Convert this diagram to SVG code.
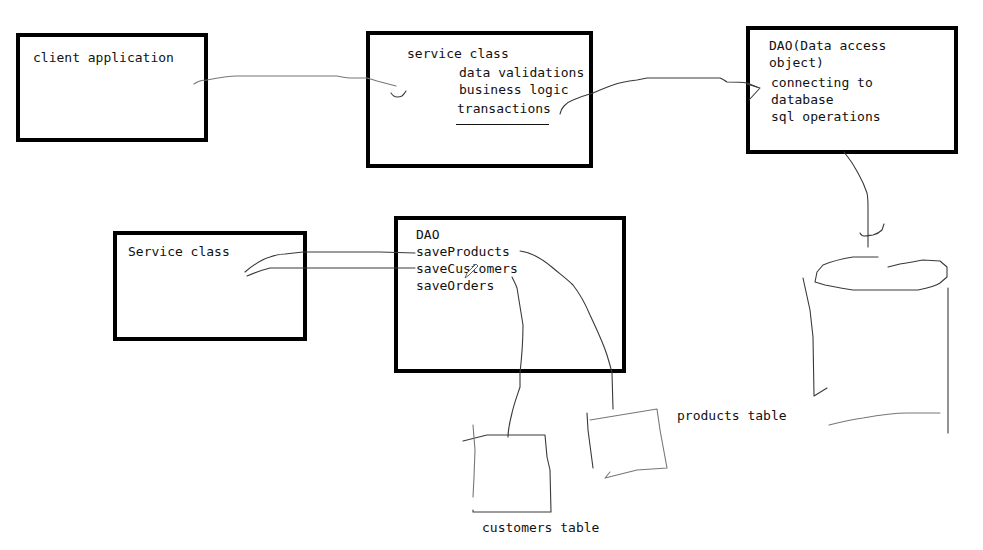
<svg xmlns="http://www.w3.org/2000/svg" width="983" height="550" viewBox="0 0 983 550">
  <style>
    .box { fill: none; stroke: #000; stroke-width: 4; }
    .txt { font-family: "DejaVu Sans Mono", "Liberation Mono", monospace; font-size: 13px; fill: #111; }
    .ink { fill: none; stroke: #3a3a3a; stroke-width: 1.1; stroke-linecap: round; stroke-linejoin: round; }
    .pale { fill: none; stroke: #777; stroke-width: 1.1; stroke-linecap: round; stroke-linejoin: round; }
  </style>
  <rect width="983" height="550" fill="#fff"/>

  <!-- top row: client -> service -> DAO -> database -->
  <g id="client-application">
    <rect class="box" x="18" y="35" width="188" height="105"/>
    <text class="txt" x="33" y="62">client application</text>
  </g>

  <g id="service-class">
    <rect class="box" x="368" y="33" width="223" height="133"/>
    <text class="txt" x="407" y="58">service class</text>
    <text class="txt" x="459" y="77">data validations</text>
    <text class="txt" x="459" y="94">business logic</text>
    <text class="txt" x="457" y="113">transactions</text>
    <line x1="456" y1="124.5" x2="549" y2="124.5" stroke="#111" stroke-width="1.2"/>
  </g>

  <g id="dao-top">
    <rect class="box" x="748" y="28" width="208" height="124"/>
    <text class="txt" x="769" y="50">DAO(Data access</text>
    <text class="txt" x="769" y="67">object)</text>
    <text class="txt" x="771" y="87">connecting to</text>
    <text class="txt" x="771" y="104">database</text>
    <text class="txt" x="771" y="121">sql operations</text>
  </g>

  <g id="database">
    <!-- lid -->
    <path class="ink" d="M878,257 L853,257 C840,259 830,262 823,265 L817,272 L815,282 L825,285 C835,287 845,289 853,290 L918,290 C928,288 936,286 940,283 L947,277 L947,267 L940,261 L923,260 C913,262 905,263 900,264 L888,267"/>
    <!-- left wall -->
    <path class="ink" d="M803,278 L810,310 L813,337 L814,396 L827,388"/>
    <!-- right wall -->
    <path class="ink" d="M948,288 L948,433"/>
    <!-- base -->
    <path class="pale" d="M829,425 C845,421 855,419 863,418 C880,415 895,413 907,413 L940,413"/>
  </g>

  <!-- bottom row: service -> DAO -> tables -->
  <g id="service-class-2">
    <rect class="box" x="115" y="233" width="190" height="106"/>
    <text class="txt" x="128" y="256">Service class</text>
  </g>

  <g id="dao-bottom">
    <rect class="box" x="396" y="218" width="228" height="153"/>
    <text class="txt" x="416" y="239">DAO</text>
    <text class="txt" x="416" y="256">saveProducts</text>
    <text class="txt" x="416" y="273">saveCustomers</text>
    <text class="txt" x="416" y="290">saveOrders</text>
    <!-- pen cursor -->
    <path d="M465,278 L467,273 L476,264 L478,266 L469,275 Z" fill="#fff" stroke="#555" stroke-width="0.9"/>
  </g>

  <g id="customers-table">
    <path class="ink" d="M463,441 L487,435 L545,435 L547,457 L550,470 L551,512 L473,512 L473,510"/>
    <path class="pale" d="M473,425 L475,450 L474,477 L473,497"/>
    <text class="txt" x="482" y="532">customers table</text>
  </g>

  <g id="products-table">
    <path class="pale" d="M590,420 L657,409 L660,430 L667,468 L637,470 L605,478 L610,472"/>
    <path class="ink" d="M587,413 L588,430 L593,468"/>
    <text class="txt" x="677" y="420">products table</text>
  </g>

  <g id="connectors">
    <!-- client application to service class -->
    <path class="pale" d="M194,84 C198,81 202,80 207,80 C217,78 227,76 237,76 L337,76 C343,77 346,78 350,78 L367,78 C371,79 374,80 377,81 L396,86"/>
    <path class="ink" d="M391,93 C393,96 395,97 397,97 C400,97 402,96 402,96 C404,94 405,93 406,91"/>
    <!-- service class to DAO -->
    <path class="ink" d="M560,114 C561,110 562,108 564,106 C567,103 570,101 573,100 C580,97 586,95 593,93 C600,90 607,87 613,85 C621,82 629,81 637,80 L647,78 L720,78 C723,79 725,81 727,82 C734,82 741,82 747,83 L757,87"/>
    <path class="ink" d="M747,84 L760,88 L749,100"/>
    <!-- DAO to database -->
    <path class="ink" d="M844,152 C846,155 848,157 850,160 C853,164 855,168 858,173 C862,180 865,187 867,193 C868,198 868,203 868,207 L868,247"/>
    <path class="ink" d="M860,233 C861,235 862,236 864,236 C868,236 871,235 873,235 C877,234 880,232 882,230 L884,224"/>
    <!-- Service class to saveProducts -->
    <path class="ink" d="M245,272 C252,266 260,260 270,257 C275,255 280,254 285,254 L303,252 L380,252 L415,253"/>
    <!-- Service class to saveCustomers -->
    <path class="ink" d="M247,276 C254,273 262,270 270,268 L415,268"/>
    <!-- saveProducts to products table -->
    <path class="ink" d="M520,251 C530,252 540,257 553,268 C560,274 567,279 573,285 C580,294 585,303 590,315 C596,328 602,340 607,355 C609,362 611,368 612,373 L613,409"/>
    <!-- saveCustomers to customers table -->
    <path class="ink" d="M512,277 C514,281 516,285 517,288 C519,300 521,312 523,325 C523,340 522,355 520,373 L520,387 C517,396 514,404 512,413 C510,421 508,429 508,437"/>
  </g>
</svg>
